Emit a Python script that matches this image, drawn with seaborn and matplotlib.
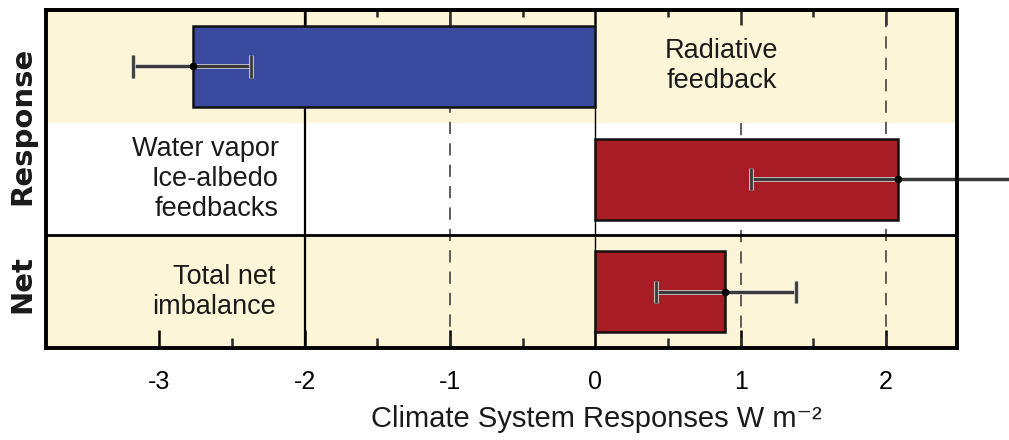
import matplotlib
matplotlib.use("Agg")
import matplotlib.pyplot as plt
import matplotlib.patheffects as pe
import matplotlib.transforms as mtransforms
import seaborn as sns
import pandas as pd

# data
rows = ["Radiative feedback", "Water vapor Ice-albedo feedbacks", "Total net imbalance"]
row_text = ["Radiative\nfeedback", "Water vapor\nIce-albedo\nfeedbacks", "Total net\nimbalance"]
values = [-2.77, 2.08, 0.89]
err_low = [0.41, 1.01, 0.47]
err_high = [0.40, 1.01, 0.49]
group_names = ["Response", "Net"]
xticks_major = [-3, -2, -1, 0, 1, 2]
xticks_minor = [-2.5, -1.5, -0.5, 0.5, 1.5]
top_major = [-2, -1, 0, 1, 2]
top_minor = [-1.5, -0.5, 0.5, 1.5]

bar_colors = ["#3A4A9E", "#A81D25", "#A81D25"]
cream = "#FCF5D8"

sns.set_style("ticks")
plt.rcParams["font.family"] = ["Liberation Sans", "DejaVu Sans"]
plt.rcParams["axes.unicode_minus"] = False

df = pd.DataFrame({"row": rows, "value": values})

fig = plt.figure(figsize=(10.09, 4.40), dpi=100)
ax = fig.add_axes([0.0456, 0.209, 0.903, 0.768])

sns.barplot(data=df, x="value", y="row", hue="row", palette=bar_colors,
            saturation=1, orient="h", width=0.72, edgecolor="#111111",
            linewidth=1.8, legend=False, ax=ax, zorder=3)

# background bands
ax.axhspan(-0.5, 0.5, color=cream, lw=0, zorder=0)
ax.axhspan(1.5, 2.5, color=cream, lw=0, zorder=0)
ax.axhline(1.5, color="black", lw=2.0, zorder=2)

# reference lines
ax.axvline(-2, color="black", lw=1.6, zorder=1)
ax.axvline(0, color="black", lw=1.0, zorder=1)
for xv in [-1, 2]:
    ax.axvline(xv, color="#333333", lw=1.1, ls=(0, (8, 6)), zorder=1)
ax.vlines(1, 0.5, 2.5, color="#333333", lw=1.1, ls=(0, (8, 6)), zorder=1)

# error bars
eb = ax.errorbar(values, list(range(len(rows))), xerr=[err_low, err_high],
                 fmt="o", ms=4.5, mfc="black", mec="black", ecolor="#3a3a3a",
                 elinewidth=2.2, capsize=8, capthick=2.0, zorder=4)
halo = [pe.withStroke(linewidth=3.4, foreground="#cfcfcf")]
for art in list(eb.lines[1]) + list(eb.lines[2]):
    art.set_clip_on(False)
    art.set_path_effects(halo)
eb.lines[0].set_clip_on(False)

# in-plot labels
text_x = [0.87, -2.18, -2.2]
text_ha = ["center", "right", "right"]
for i, txt in enumerate(row_text):
    ax.text(text_x[i], i, txt, ha=text_ha[i], va="center", fontsize=19.5,
            color="#1a1a1a", zorder=5, linespacing=1.2)

trans = mtransforms.blended_transform_factory(ax.transAxes, ax.transData)
ax.text(-0.026, 0.53, group_names[0], transform=trans, rotation=90,
        ha="center", va="center", fontsize=21, fontweight="bold",
        family="DejaVu Sans", color="#1a1a1a")
ax.text(-0.026, 1.93, group_names[1], transform=trans, rotation=90,
        ha="center", va="center", fontsize=21, fontweight="bold",
        family="DejaVu Sans", color="#1a1a1a")

ax.set_xlim(-3.78, 2.49)
ax.set_ylim(2.5, -0.5)
ax.set_yticks([])
ax.set_ylabel("")
ax.set_xticks(xticks_major)
ax.set_xticks(xticks_minor, minor=True)
ax.tick_params(axis="x", which="major", direction="in", length=13, width=1.8,
               labelsize=18, pad=16, colors="black")
ax.tick_params(axis="x", which="minor", direction="in", length=7, width=1.8)
ax.set_xlabel("Climate System Responses W m\u207b\u00b2", fontsize=21,
              color="#1a1a1a")
ax.xaxis.set_label_coords(0.604, -0.17)

sec = ax.secondary_xaxis("top")
sec.set_xticks(top_major)
sec.set_xticks(top_minor, minor=True)
sec.tick_params(axis="x", which="major", direction="in", length=11, width=1.8,
                labeltop=False)
sec.tick_params(axis="x", which="minor", direction="in", length=5, width=1.8)
sec.set_xticklabels([])
sec.spines["top"].set_linewidth(2.8)

for s in ax.spines.values():
    s.set_linewidth(2.8)
    s.set_color("black")
    s.set_zorder(6)

fig.savefig("out.png", dpi=100)
